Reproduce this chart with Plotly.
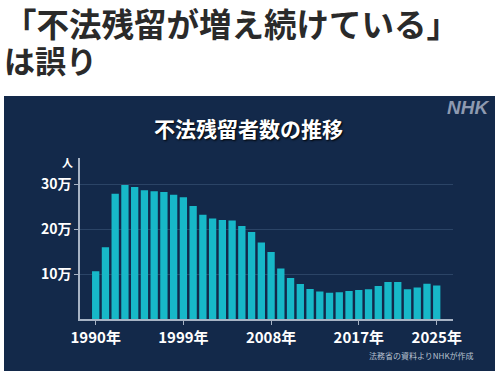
import plotly.graph_objects as go

years = list(range(1990, 2026))
overstayers = [106497, 159828, 278892, 298646, 293800, 286704, 284500, 282986,
               276810, 271048, 251697, 232121, 224067, 220552, 219418, 207299,
               193745, 170839, 149785, 113072, 91778, 78488, 67065, 62009,
               59061, 60007, 62818, 65270, 66498, 74167, 82892, 82868,
               66759, 70491, 79113, 74863]
x_tick_vals = [1990, 1999, 2008, 2017, 2025]
x_tick_text = ["1990年", "1999年", "2008年", "2017年", "2025年"]
y_tick_vals = [100000, 200000, 300000]
y_tick_text = ["10万", "20万", "30万"]
headline = ["「不法残留が増え続けている」", "は誤り"]

W, H = 502, 381
FONT = "Noto Sans CJK JP"
PANEL = "#13294a"
AXIS = "#a7b3c4"

def px(x):
    return x / W

def py(y):
    return 1 - y / H

fig = go.Figure()
fig.add_trace(go.Bar(x=years, y=overstayers, marker=dict(color="#17b8c8", line=dict(width=0)),
                     hoverinfo="x+y"))

headline_html = ('<span style="font-size:32.5px">' + headline[0] + '</span><br>'
                 '<span style="font-size:31px">' + headline[1] + '</span>')

fig.update_layout(
    width=W, height=H,
    margin=dict(l=0, r=0, t=0, b=0, autoexpand=False),
    paper_bgcolor="white",
    plot_bgcolor=PANEL,
    showlegend=False,
    bargap=0.25,
    font=dict(family=FONT, color="white"),
    xaxis=dict(
        domain=[px(80), px(453)],
        range=[1988.39, 2026.67],
        automargin=False,
        tickvals=x_tick_vals, ticktext=x_tick_text,
        ticks="outside", ticklen=4, tickcolor=AXIS, tickwidth=1,
        showline=True, linecolor=AXIS, linewidth=1.5,
        showgrid=False, zeroline=False,
        tickfont=dict(family=FONT, size=15, color="white", weight="bold"),
    ),
    yaxis=dict(
        domain=[py(319.3), py(158)],
        range=[0, 358400],
        automargin=False,
        tickvals=y_tick_vals, ticktext=y_tick_text,
        ticks="outside", ticklen=4, tickcolor=AXIS, tickwidth=1,
        showline=True, linecolor=AXIS, linewidth=1.5,
        showgrid=True, gridcolor="#2b4466", gridwidth=1,
        zeroline=False,
        tickfont=dict(family=FONT, size=14, color="white", weight="bold"),
    ),
    shapes=[
        dict(type="rect", xref="paper", yref="paper",
             x0=px(4), x1=px(495), y0=py(371), y1=py(96),
             fillcolor=PANEL, line=dict(width=0), layer="below"),
    ],
    annotations=[
        dict(text=headline_html, xref="paper", yref="paper",
             x=px(2), y=py(40), xanchor="left", yanchor="middle", align="left",
             showarrow=False,
             font=dict(family=FONT, size=27.7, color="#2a2a2a", weight="bold")),
        dict(text="不法残留者数の推移", xref="paper", yref="paper",
             x=px(248), y=py(128), xanchor="center", yanchor="middle", showarrow=False,
             font=dict(family=FONT, size=21, color="white", weight="bold",
                       shadow="1px 1px 2px #000000")),
        dict(text="NHK", xref="paper", yref="paper",
             x=px(491), y=py(108), xanchor="right", yanchor="middle", showarrow=False,
             font=dict(family="Liberation Sans", size=19, color="#8e9ab0",
                       weight="bold", style="italic")),
        dict(text="人", xref="paper", yref="paper",
             x=px(67), y=py(162), xanchor="center", yanchor="middle", showarrow=False,
             font=dict(family=FONT, size=11, color="white", weight="bold")),
        dict(text="法務省の資料よりNHKが作成", xref="paper", yref="paper",
             x=px(476), y=py(355), xanchor="right", yanchor="middle", showarrow=False,
             font=dict(family=FONT, size=8, color="#b8c2d0")),
    ],
)

fig.write_html("out.html", config={"displayModeBar": False},
               post_script="document.body.style.margin='0';")
